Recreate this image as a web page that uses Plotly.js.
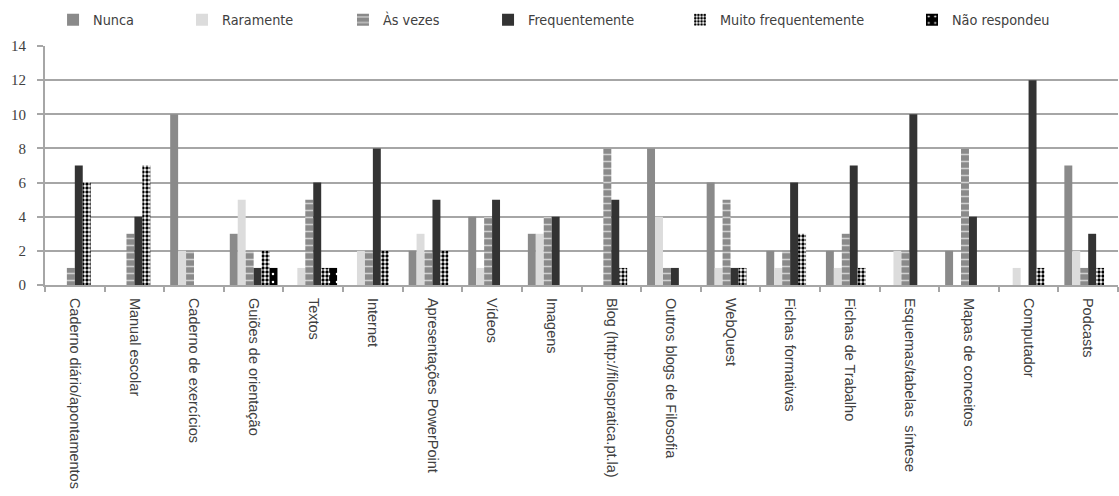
<!DOCTYPE html>
<html>
<head>
<meta charset="utf-8">
<script src="https://cdn.plot.ly/plotly-3.0.1.min.js"></script>
<style>html,body{margin:0;padding:0;background:#fff;}#chart{width:1119px;height:496px;}</style>
</head>
<body>
<div id="chart"></div>
<script>
const categories = [
  "Caderno diário/apontamentos", "Manual escolar", "Caderno de exercícios",
  "Guiões de orientação", "Textos", "Internet", "Apresentações PowerPoint",
  "Vídeos", "Imagens", "Blog (http://filospratica.pt.la)",
  "Outros blogs de Filosofia", "WebQuest", "Fichas formativas",
  "Fichas de Trabalho", "Esquemas/tabelas  síntese", "Mapas de conceitos",
  "Computador", "Podcasts"
];
const seriesNames = ["Nunca", "Raramente", "Às vezes", "Frequentemente", "Muito frequentemente", "Não respondeu"];
const nunca          = [0, 0, 10, 3, 0, 0, 2, 4, 3, 0, 8, 6, 2, 2, 0, 2, 0, 7];
const raramente      = [0, 0, 2, 5, 1, 2, 3, 1, 3, 0, 4, 1, 1, 1, 2, 0, 1, 2];
const asVezes        = [1, 3, 2, 2, 5, 2, 2, 4, 4, 8, 1, 5, 2, 3, 2, 8, 0, 1];
const frequentemente = [7, 4, 0, 1, 6, 8, 5, 5, 4, 5, 1, 1, 6, 7, 10, 4, 12, 3];
const muitoFreq      = [6, 7, 0, 2, 1, 2, 2, 0, 0, 1, 0, 1, 3, 1, 0, 0, 1, 1];
const naoRespondeu   = [0, 0, 0, 1, 1, 0, 0, 0, 0, 0, 0, 0, 0, 0, 0, 0, 0, 0];
const yTicks = [0, 2, 4, 6, 8, 10, 12, 14];

const values = [nunca, raramente, asVezes, frequentemente, muitoFreq, naoRespondeu];
const markers = [
  {color: "#8a8a8a"},
  {color: "#dcdcdc"},
  {color: "#8a8a8a", pattern: {shape: "-", bgcolor: "#8a8a8a", fgcolor: "#d0d0d0", size: 7, solidity: 0.22, fillmode: "replace"}},
  {color: "#333333"},
  {color: "#ffffff", pattern: {shape: ".", bgcolor: "#ffffff", fgcolor: "#000000", size: 4, solidity: 0.55, fillmode: "replace"}},
  {color: "#000000", pattern: {shape: ".", bgcolor: "#000000", fgcolor: "#ffffff", size: 8, solidity: 0.08, fillmode: "replace"}}
];
const legendX = [0.0075, 0.1277, 0.2777, 0.4129, 0.5918, 0.8080];

const traces = seriesNames.map((name, i) => ({
  type: "bar",
  name: name,
  x: categories,
  y: values[i],
  marker: Object.assign({line: {width: 0}}, markers[i]),
  legend: i === 0 ? "legend" : "legend" + (i + 1),
  hoverinfo: "x+y+name"
}));

const legendFont = {family: "Liberation Sans Narrow, DejaVu Sans Condensed, Liberation Sans, sans-serif", size: 14.3, color: "#404040"};
const layout = {
  width: 1119, height: 496,
  margin: {l: 45, r: 1, t: 46, b: 211, pad: 0},
  paper_bgcolor: "#ffffff", plot_bgcolor: "#ffffff",
  barmode: "group", bargap: 0.2, bargroupgap: 0,
  showlegend: true,
  xaxis: {
    type: "category",
    tickangle: 90,
    tickfont: {family: "Liberation Sans, Arial, sans-serif", size: 14.5, color: "#404040"},
    showline: true, linecolor: "#a6a6a6", linewidth: 2,
    ticks: "outside", tickson: "boundaries", ticklen: 5, tickcolor: "#a6a6a6", tickwidth: 2,
    ticklabelstandoff: 8,
    showgrid: false, automargin: false
  },
  yaxis: {
    range: [0, 14], tickvals: yTicks, ticktext: yTicks.map(String),
    tickfont: {family: "Liberation Serif, DejaVu Serif, serif", size: 15, color: "#404040"},
    showgrid: true, gridcolor: "#a6a6a6", gridwidth: 2,
    zeroline: false,
    showline: true, linecolor: "#a6a6a6", linewidth: 2,
    ticks: "outside", ticklen: 6, tickcolor: "#a6a6a6", tickwidth: 2,
    ticklabelstandoff: 8, automargin: false
  }
};
seriesNames.forEach((n, i) => {
  const key = i === 0 ? "legend" : "legend" + (i + 1);
  layout[key] = {
    x: legendX[i], xanchor: "left", y: 1.109, yanchor: "middle",
    orientation: "h", font: legendFont, bgcolor: "rgba(0,0,0,0)", borderwidth: 0,
    itemclick: false, itemdoubleclick: false
  };
});

Plotly.newPlot("chart", traces, layout, {displayModeBar: false, responsive: false});
</script>
</body>
</html>
